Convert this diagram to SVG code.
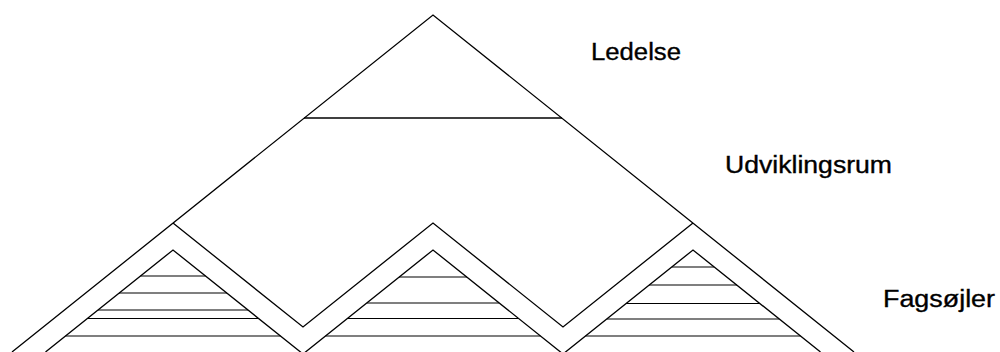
<svg xmlns="http://www.w3.org/2000/svg" width="1000" height="352" viewBox="0 0 1000 352">
  <style>
    .ln { fill: none; stroke: #000; stroke-width: 1.3; stroke-linejoin: miter; }
    .ht { fill: none; stroke: #000; stroke-width: 1.2; }
    .lbl { font-family: "Liberation Sans", Arial, sans-serif; font-size: 23px; fill: #000; stroke: #000; stroke-width: 0.35; }
  </style>
  <rect x="0" y="0" width="1000" height="352" fill="#fff"/>
  <g id="outline">
    <polyline class="ln" points="12,352 433,15 854,352"/>
  </g>
  <g id="ledelse">
    <line class="ln" x1="304" y1="118" x2="562" y2="118"/>
  </g>
  <g id="udviklingsrum">
    <polyline class="ln" points="173,223 303,327 433,223 563,327 693,223"/>
  </g>
  <g id="fagsoejler">
    <polyline class="ln" points="45.5,352 173,250 303,354 433,250 563,354 693,250 820.5,352"/>
    <g id="soejle1">
      <line class="ht" x1="140.5" y1="276" x2="205.5" y2="276"/>
      <line class="ht" x1="119" y1="293" x2="227" y2="293"/>
      <line class="ht" x1="98" y1="310" x2="248" y2="310"/>
      <line class="ht" x1="87.5" y1="318.5" x2="258.5" y2="318.5"/>
      <line class="ht" x1="65.5" y1="336" x2="280.5" y2="336"/>
    </g>
    <g id="soejle2">
      <line class="ht" x1="399" y1="277" x2="467" y2="277"/>
      <line class="ht" x1="367" y1="303" x2="499" y2="303"/>
      <line class="ht" x1="347.5" y1="318.5" x2="518.5" y2="318.5"/>
      <line class="ht" x1="325.5" y1="336" x2="540.5" y2="336"/>
    </g>
    <g id="soejle3">
      <line class="ht" x1="672" y1="267" x2="714" y2="267"/>
      <line class="ht" x1="649" y1="285" x2="737" y2="285"/>
      <line class="ht" x1="626" y1="303.5" x2="760" y2="303.5"/>
      <line class="ht" x1="607" y1="319" x2="779" y2="319"/>
      <line class="ht" x1="585.5" y1="336" x2="800.5" y2="336"/>
    </g>
  </g>
  <g id="labels">
    <text class="lbl" x="591" y="60" textLength="90" lengthAdjust="spacingAndGlyphs">Ledelse</text>
    <text class="lbl" x="725" y="173" textLength="167" lengthAdjust="spacingAndGlyphs">Udviklingsrum</text>
    <text class="lbl" x="883" y="307" textLength="112" lengthAdjust="spacingAndGlyphs">Fagsøjler</text>
  </g>
</svg>
